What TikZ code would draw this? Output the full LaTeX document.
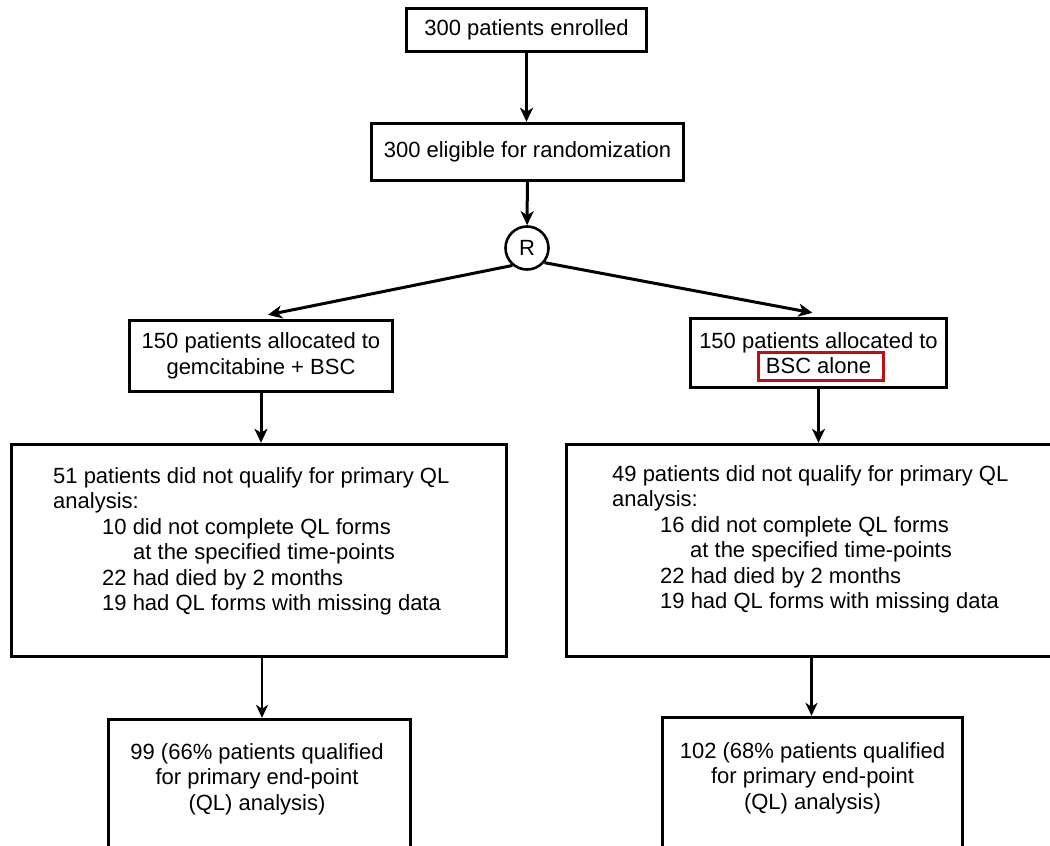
\documentclass[tikz,border=0pt]{standalone}
\usepackage{fontspec}
\setmainfont{Liberation Sans}
\usetikzlibrary{arrows.meta}
\definecolor{hlred}{rgb}{0.76,0.05,0.07}
\begin{document}
\begin{tikzpicture}[x=1pt,y=-1pt,
  box/.style={draw=black, line width=3.4pt, inner sep=0pt},
  txt/.style={font=\fontsize{22}{25.5}\selectfont, align=center, inner sep=0pt},
  ltxt/.style={font=\fontsize{22}{25.5}\selectfont, align=left, inner sep=0pt, anchor=north west},
  arr/.style={line width=3pt, -{Stealth[length=14pt,width=13pt,inset=4pt]}},
  thinarr/.style={line width=2.2pt, -{Stealth[length=13pt,width=12pt,inset=4pt]}}]
\useasboundingbox (0,0) rectangle (1050,846);
\clip (0,0) rectangle (1050,846);
\fill[white] (0,0) rectangle (1050,846);

\node[box, txt, minimum width=240pt, minimum height=43pt] (enr) at (526.5,30) {300 patients enrolled};
\node[box, txt, minimum width=312pt, minimum height=57pt] (elig) at (527.5,152) {300 eligible for randomization};
\node[draw=black, line width=2.6pt, circle, minimum size=43pt, inner sep=0pt, font=\fontsize{22}{25.5}\selectfont] (R) at (527,248) {R};

\node[box, txt, minimum width=263pt, minimum height=71pt] (la) at (261,356) {150 patients allocated to\\gemcitabine + BSC};
\node[box, txt, minimum width=256pt, minimum height=69pt] (ra) at (818.5,353) {150 patients allocated to\\BSC alone};
\node[draw=hlred, line width=3pt, minimum width=125pt, minimum height=28pt, inner sep=0pt] (bsc) at (820.5,366) {};

\node[box, minimum width=495pt, minimum height=212pt] (lq) at (259,550.5) {};
\node[box, minimum width=490pt, minimum height=212pt] (rq) at (811.5,550.5) {};
\node[ltxt] (lqt) at (53,467) {51 patients did not qualify for primary QL\\
analysis:\\
\hspace*{49pt}10 did not complete QL forms\\
\hspace*{80pt}at the specified time-points\\
\hspace*{49pt}22 had died by 2 months\\
\hspace*{49pt}19 had QL forms with missing data};
\node[ltxt] (rqt) at (612,465) {49 patients did not qualify for primary QL\\
analysis:\\
\hspace*{48pt}16 did not complete QL forms\\
\hspace*{78pt}at the specified time-points\\
\hspace*{48pt}22 had died by 2 months\\
\hspace*{48pt}19 had QL forms with missing data};

\node[box, minimum width=302pt, minimum height=200pt] (lf) at (259.5,819.5) {};
\node[box, minimum width=300pt, minimum height=200pt] (rf) at (812.5,817.5) {};
\node[txt] (lft) at (257,779) {99 (66\% patients qualified\\for primary end-point\\(QL) analysis)};
\node[txt] (rft) at (812.5,778) {102 (68\% patients qualified\\for primary end-point\\(QL) analysis)};

\draw[arr] (enr.south) -- (enr.south |- elig.north);
\draw[arr] (elig) -- (R);
\draw[arr] (R.230) -- ([xshift=7pt,yshift=4pt]la.north);
\draw[arr] (R.-40) -- ([xshift=-6pt,yshift=4pt]ra.north);
\draw[arr] (la.south) -- (la.south |- lq.north);
\draw[arr] (ra.south) -- (ra.south |- rq.north);
\draw[thinarr] ([xshift=2.5pt]lf.north |- lq.south) -- ([xshift=2.5pt]lf.north);
\draw[thinarr] ([xshift=-1pt]rf.north |- rq.south) -- ([xshift=-1pt]rf.north);
\end{tikzpicture}
\end{document}
